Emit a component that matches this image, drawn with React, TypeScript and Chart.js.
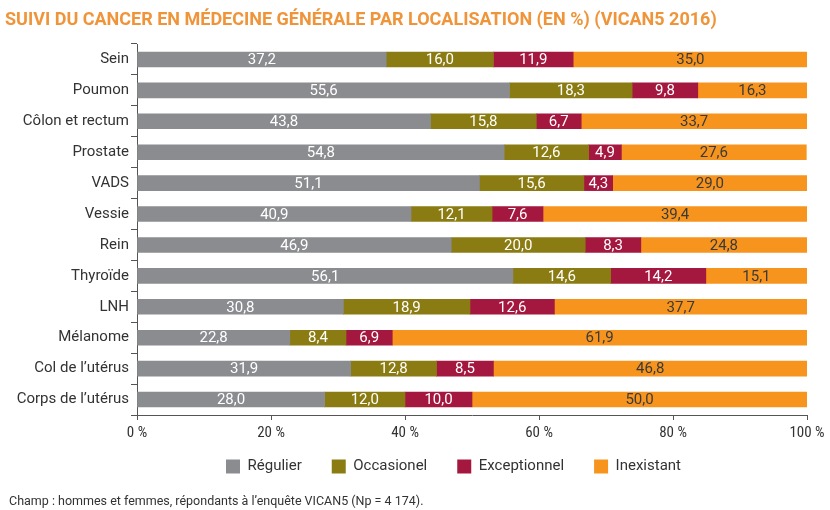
import React, { useEffect, useRef } from "react";
import { Chart, registerables } from "chart.js";

Chart.register(...registerables);

const categories = [
  "Sein",
  "Poumon",
  "Côlon et rectum",
  "Prostate",
  "VADS",
  "Vessie",
  "Rein",
  "Thyroïde",
  "LNH",
  "Mélanome",
  "Col de l’utérus",
  "Corps de l’utérus",
];

const regulier = [37.2, 55.6, 43.8, 54.8, 51.1, 40.9, 46.9, 56.1, 30.8, 22.8, 31.9, 28.0];
const occasionel = [16.0, 18.3, 15.8, 12.6, 15.6, 12.1, 20.0, 14.6, 18.9, 8.4, 12.8, 12.0];
const exceptionnel = [11.9, 9.8, 6.7, 4.9, 4.3, 7.6, 8.3, 14.2, 12.6, 6.9, 8.5, 10.0];
const inexistant = [35.0, 16.3, 33.7, 27.6, 29.0, 39.4, 24.8, 15.1, 37.7, 61.9, 46.8, 50.0];

const xTicks = [0, 20, 40, 60, 80, 100];

const TITLE = "SUIVI DU CANCER EN MÉDECINE GÉNÉRALE PAR LOCALISATION (EN %) (VICAN5 2016)";
const FOOTER = "Champ : hommes et femmes, répondants à l’enquête VICAN5 (Np = 4 174).";

const COLORS = ["#8b8c8f", "#8a7c12", "#a4173f", "#f7941d"];
const LABEL_COLORS = ["#ffffff", "#ffffff", "#ffffff", "#3a3a3a"];

const textPlugin = {
  id: "texts",
  afterLayout(chart: any) {
    const lg = chart.legend;
    if (lg) {
      const dx = 50;
      const dy = -16;
      lg.left += dx;
      lg.right += dx;
      lg.top += dy;
      lg.bottom += dy;
    }
  },
  afterDraw(chart: any) {
    const ctx = chart.ctx;
    ctx.save();
    ctx.textBaseline = "middle";
    ctx.textAlign = "left";
    ctx.fillStyle = "#f0943a";
    ctx.font = "bold 18px Roboto";
    ctx.fillText(TITLE, 5, 20);
    ctx.fillStyle = "#333333";
    ctx.font = "12.5px Roboto";
    ctx.fillText(FOOTER, 9, 502);
    ctx.restore();
  },
};

const valuePlugin = {
  id: "values",
  afterDatasetsDraw(chart: any) {
    const ctx = chart.ctx;
    ctx.save();
    ctx.textAlign = "center";
    ctx.textBaseline = "middle";
    ctx.font = "15px Roboto";
    chart.data.datasets.forEach((ds: any, di: number) => {
      const meta = chart.getDatasetMeta(di);
      meta.data.forEach((bar: any, i: number) => {
        const v = ds.data[i];
        const props = bar.getProps(["x", "y", "base"], true);
        const cx = (props.x + props.base) / 2;
        ctx.fillStyle = LABEL_COLORS[di];
        ctx.fillText(v.toFixed(1).replace(".", ","), cx, props.y + 1);
      });
    });
    ctx.restore();
  },
};

export default function App() {
  const ref = useRef<HTMLCanvasElement>(null);
  useEffect(() => {
    if (!ref.current) return;
    const series = [
      ["Régulier", regulier],
      ["Occasionel", occasionel],
      ["Exceptionnel", exceptionnel],
      ["Inexistant", inexistant],
    ] as [string, number[]][];
    const chart = new Chart(ref.current, {
      type: "bar",
      data: {
        labels: categories,
        datasets: series.map(([label, data], i) => ({
          label,
          data,
          backgroundColor: COLORS[i],
          borderWidth: 0,
          barThickness: 15,
        })),
      },
      options: {
        indexAxis: "y",
        animation: false,
        responsive: false,
        devicePixelRatio: 1,
        layout: { padding: { top: 44, bottom: 10, left: 0, right: 23 } },
        scales: {
          x: {
            stacked: true,
            min: 0,
            max: 100,
            afterBuildTicks: (scale: any) => {
              scale.ticks = xTicks.map((v) => ({ value: v }));
            },
            afterFit: (scale: any) => {
              scale.height = 30;
            },
            border: { display: true, color: "#555555", width: 1 },
            grid: { drawOnChartArea: false, drawTicks: true, tickLength: 5, color: "#555555" },
            ticks: {
              color: "#333333",
              font: { family: "'Liberation Sans Narrow', 'Roboto Condensed', Roboto", size: 15 },
              padding: 4,
              callback: (v: any) => `${v} %`,
              maxRotation: 0,
            },
          },
          y: {
            stacked: true,
            afterFit: (scale: any) => {
              scale.width = 137;
            },
            border: { display: true, color: "#555555", width: 1 },
            grid: { drawOnChartArea: false, drawTicks: true, tickLength: 6, color: "#555555" },
            ticks: {
              color: "#333333",
              font: { family: "Roboto", size: 15 },
              padding: 2,
            },
          },
        },
        plugins: {
          title: { display: false },
          tooltip: { enabled: false },
          legend: {
            position: "bottom",
            labels: {
              usePointStyle: true,
              pointStyle: "rect",
              boxWidth: 14,
              boxHeight: 14,
              padding: 30,
              color: "#333333",
              font: { family: "Roboto", size: 15 },
            },
          },
        },
      },
      plugins: [textPlugin, valuePlugin],
    });
    return () => chart.destroy();
  }, []);
  return (
    <div style={{ position: "absolute", left: 0, top: 0, width: 830, height: 510, background: "#fff" }}>
      <canvas ref={ref} width={830} height={510} />
    </div>
  );
}
